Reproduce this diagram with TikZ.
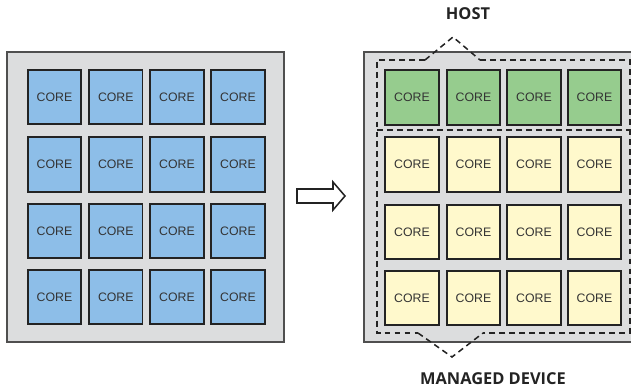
\documentclass[tikz,border=0pt]{standalone}
\usepackage{fontspec}
\setmainfont{Liberation Sans}
\newfontfamily\labelfont{Open Sans}
\definecolor{panelgray}{RGB}{220,221,222}
\definecolor{coreblue}{RGB}{141,190,232}
\definecolor{coregreen}{RGB}{150,204,142}
\definecolor{coreyellow}{RGB}{255,249,204}
\definecolor{edgedark}{RGB}{35,35,35}
\begin{document}
\begin{tikzpicture}[x=0.03cm, y=-0.03cm, thick,
    core/.style = {draw=edgedark, line width=1.5pt, minimum width=1.6cm, minimum height=1.63cm, inner sep=0pt,
      font=\fontsize{10.5}{12}\selectfont, text=black!80},
    blue/.style = {core, fill=coreblue},
    green/.style = {core, fill=coregreen},
    yellow/.style = {core, fill=coreyellow},
    panel/.style = {draw=edgedark!80, line width=1pt, fill=panelgray},
    zone/.style = {draw=edgedark, line width=1.3pt, dash pattern=on 5pt off 3.5pt},
    title/.style = {font=\labelfont\bfseries\fontsize{14}{16}\selectfont, text=edgedark}]

    \useasboundingbox (0,0) rectangle (631,391);
    \clip (0,0) rectangle (631,391);

    \draw[panel] (7,52) rectangle (284,342);
    \draw[panel] (364,52) rectangle (645,342);

    \node[blue] (L11) at (54.5,97) {CORE};
    \node[blue] (L12) at (115.8,97) {CORE};
    \node[blue] (L13) at (177,97) {CORE};
    \node[blue] (L14) at (238,97) {CORE};
    \node[blue] (L21) at (54.5,164.5) {CORE};
    \node[blue] (L22) at (115.8,164.5) {CORE};
    \node[blue] (L23) at (177,164.5) {CORE};
    \node[blue] (L24) at (238,164.5) {CORE};
    \node[blue] (L31) at (54.5,231) {CORE};
    \node[blue] (L32) at (115.8,231) {CORE};
    \node[blue] (L33) at (177,231) {CORE};
    \node[blue] (L34) at (238,231) {CORE};
    \node[blue] (L41) at (54.5,297) {CORE};
    \node[blue] (L42) at (115.8,297) {CORE};
    \node[blue] (L43) at (177,297) {CORE};
    \node[blue] (L44) at (238,297) {CORE};

    \node[green] (H1) at (412,97.5) {CORE};
    \node[green] (H2) at (473.5,97.5) {CORE};
    \node[green] (H3) at (534,97.5) {CORE};
    \node[green] (H4) at (594.5,97.5) {CORE};

    \node[yellow] (M11) at (412,164.5) {CORE};
    \node[yellow] (M12) at (473.5,164.5) {CORE};
    \node[yellow] (M13) at (534,164.5) {CORE};
    \node[yellow] (M14) at (594.5,164.5) {CORE};
    \node[yellow] (M21) at (412,232) {CORE};
    \node[yellow] (M22) at (473.5,232) {CORE};
    \node[yellow] (M23) at (534,232) {CORE};
    \node[yellow] (M24) at (594.5,232) {CORE};
    \node[yellow] (M31) at (412,298) {CORE};
    \node[yellow] (M32) at (473.5,298) {CORE};
    \node[yellow] (M33) at (534,298) {CORE};
    \node[yellow] (M34) at (594.5,298) {CORE};

    \draw[edgedark, line width=1.3pt, fill=white] (297,189) -- (333,189) -- (333,182) -- (345,196)
      -- (333,210) -- (333,203) -- (297,203) -- cycle;

    \node[title] (host) at (468,14) {HOST};
    \node[title] (managed) at (493,379) {MANAGED DEVICE};

    \coordinate (hostA) at (425,60);
    \coordinate (hostTop) at (453,37);
    \coordinate (hostB) at (480,60);
    \coordinate (devA) at (418,333);
    \coordinate (devBot) at (452,357);
    \coordinate (devB) at (483,333);

    \draw[zone] (hostA) -- (377,60) -- (377,333) -- (devA);
    \draw[zone] (hostB) -- (630,60) -- (630,333) -- (devB);
    \draw[zone] (377,130) -- (630,130);
    \draw[zone] (hostA) -- (hostTop) -- (hostB);
    \draw[zone] (devA) -- (devBot) -- (devB);
\end{tikzpicture}
\end{document}
